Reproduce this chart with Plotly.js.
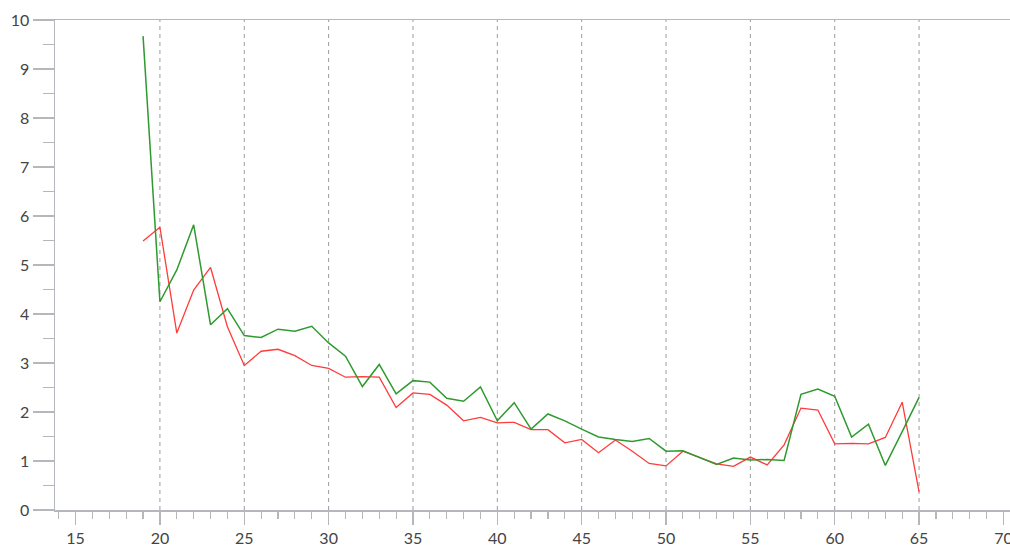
<!DOCTYPE html>
<html>
<head>
<meta charset="utf-8">
<script src="https://cdn.plot.ly/plotly-3.0.1.min.js"></script>
<style>
  html, body { margin: 0; padding: 0; background: #ffffff; overflow: hidden; }
  #chart { width: 1010px; height: 546px; }
</style>
</head>
<body>
<div id="chart"></div>
<script>
// Ages (x values)
const agesGreen = [19,20,21,22,23,24,25,26,27,28,29,30,31,32,33,34,35,36,37,38,39,40,41,42,43,44,45,46,47,48,49,50,51,52,53,54,55,56,57,58,59,60,61,62,63,64,65];
const valuesGreen = [9.67,4.25,4.90,5.82,3.78,4.11,3.56,3.52,3.69,3.65,3.75,3.41,3.14,2.52,2.97,2.37,2.64,2.61,2.28,2.22,2.51,1.82,2.19,1.65,1.96,1.82,1.65,1.49,1.44,1.40,1.46,1.20,1.21,1.07,0.93,1.06,1.02,1.03,1.01,2.36,2.47,2.32,1.49,1.75,0.91,1.60,2.30];

const agesRed = [19,20,21,22,23,24,25,26,27,28,29,30,31,32,33,34,35,36,37,38,39,40,41,42,43,44,45,46,47,48,49,50,51,52,53,54,55,56,57,58,59,60,61,62,63,64,65];
const valuesRed = [5.49,5.77,3.61,4.49,4.95,3.74,2.95,3.24,3.28,3.15,2.95,2.89,2.71,2.72,2.71,2.09,2.39,2.36,2.14,1.82,1.89,1.78,1.79,1.64,1.64,1.37,1.44,1.17,1.43,1.20,0.95,0.90,1.20,1.07,0.94,0.89,1.08,0.92,1.33,2.08,2.04,1.35,1.36,1.35,1.48,2.20,0.37];

// Dashed reference lines
const dashedX = [20,25,30,35,40,45,50,55,60,65];

const axisColor = '#b4b8bc';
const fontFam = 'Lato, "Open Sans", sans-serif';

const traces = [
  {
    x: agesRed, y: valuesRed, type: 'scatter', mode: 'lines',
    line: { color: '#ff3b3b', width: 1.3 }, hoverinfo: 'x+y', showlegend: false
  },
  {
    x: agesGreen, y: valuesGreen, type: 'scatter', mode: 'lines',
    line: { color: '#2f9a2f', width: 1.5 }, hoverinfo: 'x+y', showlegend: false
  }
];

const shapes = dashedX.map(v => ({
  type: 'line', xref: 'x', yref: 'y', x0: v, x1: v, y0: 0, y1: 10,
  line: { color: '#9a9a9a', width: 1, dash: '4px,4px' }, layer: 'below'
}));

const layout = {
  width: 1010, height: 546,
  margin: { l: 55, r: 0, t: 20, b: 36, pad: 0 },
  paper_bgcolor: '#ffffff', plot_bgcolor: '#ffffff',
  font: { family: fontFam, size: 16, color: '#444444' },
  showlegend: false,
  xaxis: {
    range: [13.78, 70.39], dtick: 5, tick0: 0,
    showgrid: false, zeroline: false,
    showline: true, linecolor: axisColor, linewidth: 1.5, mirror: true,
    ticks: 'outside', ticklen: 13, tickcolor: axisColor, tickwidth: 1.5,
    ticklabeloverflow: 'allow',
    minor: { dtick: 1, tick0: 0, ticks: 'outside', ticklen: 7, tickcolor: axisColor, tickwidth: 1.2, showgrid: false },
    tickfont: { family: fontFam, size: 16, color: '#444444' },
    fixedrange: true
  },
  yaxis: {
    range: [0, 10], dtick: 1, tick0: 0,
    showgrid: false, zeroline: false,
    showline: true, linecolor: axisColor, linewidth: 1.5,
    ticks: 'outside', ticklen: 21, tickcolor: axisColor, tickwidth: 1.5,
    ticklabeloverflow: 'allow',
    minor: { dtick: 0.5, tick0: 0, ticks: 'outside', ticklen: 11, tickcolor: axisColor, tickwidth: 1.2, showgrid: false },
    tickfont: { family: fontFam, size: 16, color: '#444444' },
    fixedrange: true
  },
  shapes: shapes
};

Plotly.newPlot('chart', traces, layout, { displayModeBar: false, staticPlot: true });
</script>
</body>
</html>
